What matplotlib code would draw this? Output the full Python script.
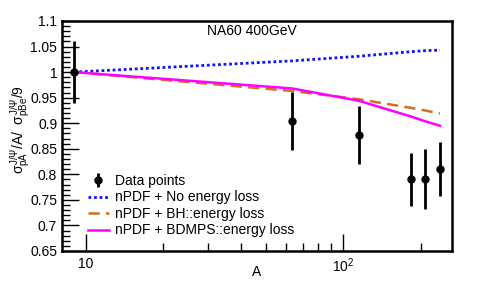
import matplotlib
matplotlib.use("Agg")
import matplotlib.pyplot as plt
from matplotlib.ticker import FixedLocator, FuncFormatter, MultipleLocator, NullFormatter
import numpy as np

plt.rcParams['font.family'] = ['Liberation Sans', 'DejaVu Sans']
plt.rcParams['mathtext.fontset'] = 'custom'
plt.rcParams['mathtext.rm'] = 'Liberation Sans'
plt.rcParams['mathtext.it'] = 'Liberation Sans'

# Data
A_data = [9, 63.5, 115, 184, 208, 238]
R_data = [1.0, 0.905, 0.877, 0.790, 0.791, 0.810]
R_err = [0.06, 0.057, 0.056, 0.052, 0.058, 0.053]

# Models
A_model = [9, 63.5, 115, 184, 208, 238]
R_noloss = [1.0, 1.022, 1.031, 1.040, 1.042, 1.043]
R_bh = [1.0, 0.963, 0.947, 0.930, 0.925, 0.919]
R_bdmps = [1.0, 0.968, 0.944, 0.913, 0.904, 0.895]

title = "NA60 400GeV"
labels = ["Data points", "nPDF + No energy loss", "nPDF + BH::energy loss", "nPDF + BDMPS::energy loss"]

W, H = 488, 287
fig = plt.figure(figsize=(W/100, H/100), dpi=100)
l, r, t, b = 62, 452, 21, 251
ax = fig.add_axes([l/W, (H-b)/H, (r-l)/W, (b-t)/H])

eb = ax.errorbar(A_data, R_data, yerr=R_err, fmt='o', color='black', ms=5, elinewidth=2, capsize=0, zorder=5)
ln1, = ax.plot(A_model, R_noloss, color='#1010ff', lw=2, linestyle=(0, (1, 1)))
ln2, = ax.plot(A_model, R_bh, color='#d2701e', lw=1.8, linestyle=(0, (4.5, 2.5)))
ln3, = ax.plot(A_model, R_bdmps, color='#ff00ff', lw=1.8)

ax.set_xscale('log')
ax.set_xlim(8.1, 265)
ax.set_ylim(0.65, 1.1)

ax.xaxis.set_major_locator(FixedLocator([10, 100]))
ax.xaxis.set_major_formatter(FuncFormatter(lambda v, p: "10" if abs(v-10) < 1e-6 else r"$10^{2}$"))
ax.xaxis.set_minor_locator(FixedLocator([20, 30, 40, 50, 60, 70, 80, 90, 200]))
ax.xaxis.set_minor_formatter(NullFormatter())
ax.yaxis.set_major_locator(MultipleLocator(0.05))
ax.yaxis.set_minor_locator(MultipleLocator(0.01))
ax.yaxis.set_major_formatter(FuncFormatter(lambda v, p: ("%.2f" % v).rstrip('0').rstrip('.')))

ax.tick_params(which='both', direction='in', top=False, right=False, labelsize=10)
ax.tick_params(which='major', length=12, width=1)
ax.tick_params(which='minor', length=6, width=1)
ax.tick_params(axis='x', which='major', pad=4)
for s in ax.spines.values():
    s.set_linewidth(1.8)

ax.text(0.487, 0.957, title, transform=ax.transAxes, ha='center', va='center', fontsize=10)
fig.text(257/W, 1 - 272/H, "A", ha='center', va='center', fontsize=10)
fig.text(20/W, 1 - 130/H, r"$\sigma^{J/\Psi}_{pA}/A/\ \ \sigma^{J/\Psi}_{pBe}/9$",
         rotation=90, ha='center', va='center', fontsize=10)

leg = ax.legend([eb, ln1, ln2, ln3], labels, loc='upper left', bbox_to_anchor=(0.0667, 0.335),
                frameon=False, fontsize=10, handlelength=1.5, handletextpad=0.45,
                labelspacing=0.18, borderaxespad=0, borderpad=0)

fig.savefig("out.png", dpi=100)
